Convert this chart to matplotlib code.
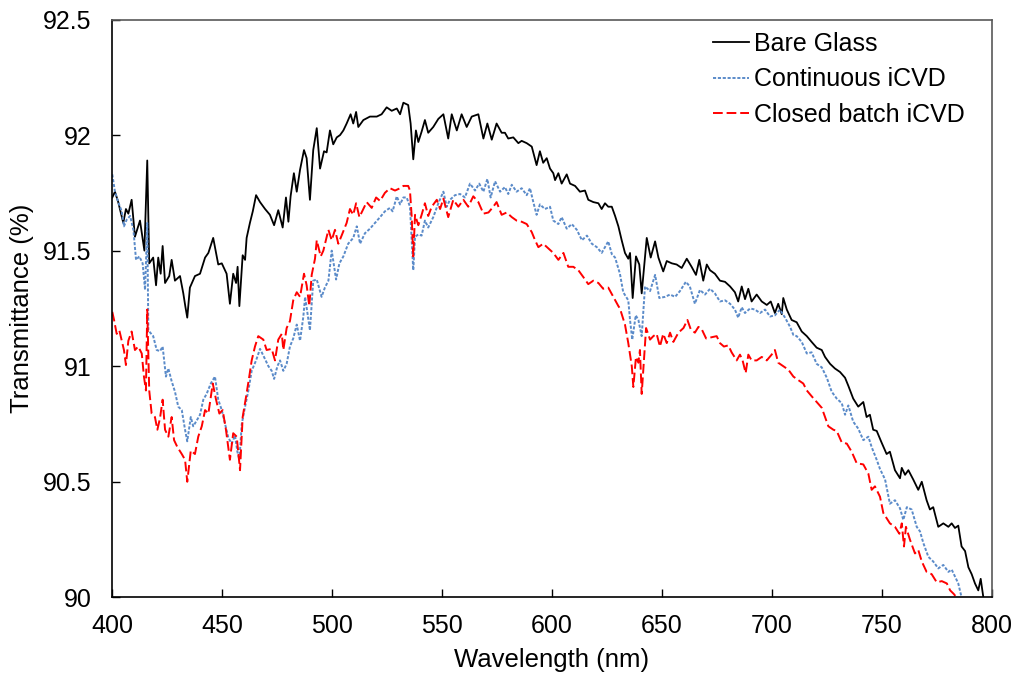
"""Transmittance of bare and iCVD-coated glass, 400-800 nm."""

import matplotlib

matplotlib.use("Agg")
import matplotlib.pyplot as plt

plt.rcParams["font.family"] = ["Liberation Sans", "DejaVu Sans"]

# Bare glass (wavelength nm, transmittance %)
bare_nm = [
    400.0, 401.2, 402.7, 405.0, 406.2, 407.3, 408.8, 410.3, 412.6, 414.6,
    415.9, 416.8, 418.6, 419.9, 420.9, 422.0, 422.9, 424.0, 425.9, 427.0,
    428.5, 430.8, 432.3, 433.2, 434.1, 435.3, 437.6, 439.9, 442.2, 443.7,
    445.9, 448.2, 449.8, 452.0, 453.5, 455.0, 456.3, 457.0, 457.8, 459.3,
    460.4, 461.1, 462.6, 463.9, 465.4, 467.2, 469.5, 471.7, 473.6, 475.5,
    477.5, 479.0, 480.1, 481.1, 482.6, 483.9, 485.4, 487.2, 488.4, 489.9,
    491.4, 493.0, 494.5, 496.3, 497.5, 499.0, 500.5, 502.1, 503.6, 505.1,
    506.6, 508.4, 509.6, 510.9, 511.9, 514.2, 517.2, 520.3, 522.5, 524.8,
    527.1, 529.4, 530.9, 532.4, 534.6, 535.7, 536.9, 538.1, 539.2, 540.7,
    542.2, 543.7, 546.0, 548.3, 550.6, 552.8, 554.4, 556.7, 558.9, 561.2,
    563.5, 566.5, 568.8, 570.6, 572.6, 574.8, 577.1, 578.6, 580.1, 582.4,
    584.7, 586.2, 588.5, 590.8, 593.0, 594.5, 596.0, 597.6, 599.1, 600.6,
    601.4, 602.9, 604.4, 606.7, 608.2, 610.5, 612.7, 615.0, 616.5, 618.8,
    621.1, 622.6, 624.1, 625.6, 627.2, 628.7, 630.2, 631.7, 633.2, 634.7,
    635.5, 636.7, 638.2, 639.7, 640.8, 643.1, 644.9, 646.9, 648.4, 650.6,
    652.2, 654.5, 656.7, 659.0, 661.3, 663.5, 665.5, 667.0, 668.8, 670.4,
    671.9, 674.1, 676.4, 678.7, 681.0, 683.2, 684.7, 686.3, 687.8, 689.3,
    690.8, 693.1, 695.4, 697.7, 699.5, 701.4, 702.9, 704.5, 705.2, 706.8,
    709.0, 711.3, 713.6, 715.9, 718.1, 720.4, 722.7, 724.2, 726.5, 728.7,
    731.0, 733.3, 734.8, 737.0, 739.3, 741.6, 743.1, 744.6, 746.1, 747.7,
    749.9, 752.2, 753.7, 756.0, 758.3, 759.1, 760.6, 762.1, 764.3, 766.6,
    768.2, 770.4, 771.9, 773.4, 775.7, 778.0, 780.3, 781.8, 783.3, 784.8,
    786.3, 787.9, 789.4, 790.9, 792.4, 793.9, 795.0, 796.2,
]
bare_t = [
    91.73, 91.755, 91.71, 91.62, 91.68, 91.66, 91.72, 91.56, 91.63, 91.50,
    91.89, 91.445, 91.47, 91.35, 91.47, 91.40, 91.52, 91.36, 91.39, 91.46,
    91.37, 91.39, 91.315, 91.26, 91.21, 91.34, 91.39, 91.40, 91.47, 91.49,
    91.555, 91.44, 91.445, 91.40, 91.27, 91.40, 91.36, 91.43, 91.26, 91.48,
    91.46, 91.555, 91.62, 91.67, 91.74, 91.71, 91.68, 91.655, 91.61, 91.675,
    91.60, 91.73, 91.625, 91.735, 91.835, 91.755, 91.85, 91.935, 91.90, 91.72,
    91.935, 92.03, 91.855, 91.93, 91.925, 92.02, 91.96, 91.99, 92.00, 92.02,
    92.05, 92.09, 92.05, 92.10, 92.035, 92.065, 92.08, 92.08, 92.09, 92.12,
    92.105, 92.115, 92.09, 92.14, 92.13, 92.05, 91.895, 92.02, 91.97, 92.015,
    92.065, 92.01, 92.035, 92.07, 92.09, 91.985, 92.09, 92.02, 92.09, 92.035,
    92.08, 92.09, 91.985, 92.05, 91.98, 92.05, 92.01, 92.01, 91.985, 91.99,
    91.965, 91.975, 91.965, 91.95, 91.87, 91.93, 91.88, 91.90, 91.855, 91.835,
    91.805, 91.835, 91.79, 91.83, 91.79, 91.78, 91.755, 91.76, 91.72, 91.71,
    91.705, 91.68, 91.705, 91.69, 91.69, 91.65, 91.605, 91.545, 91.49, 91.465,
    91.49, 91.295, 91.475, 91.44, 91.315, 91.555, 91.47, 91.54, 91.47, 91.41,
    91.455, 91.445, 91.44, 91.425, 91.465, 91.43, 91.395, 91.46, 91.37, 91.44,
    91.415, 91.40, 91.37, 91.365, 91.345, 91.32, 91.28, 91.345, 91.29, 91.335,
    91.28, 91.31, 91.28, 91.265, 91.28, 91.23, 91.27, 91.225, 91.295, 91.245,
    91.20, 91.19, 91.15, 91.13, 91.105, 91.08, 91.07, 91.04, 91.01, 90.99,
    90.975, 90.95, 90.915, 90.86, 90.825, 90.845, 90.78, 90.79, 90.725, 90.72,
    90.67, 90.62, 90.63, 90.55, 90.515, 90.56, 90.53, 90.55, 90.51, 90.465,
    90.50, 90.42, 90.38, 90.39, 90.305, 90.32, 90.305, 90.32, 90.30, 90.31,
    90.22, 90.20, 90.13, 90.10, 90.06, 90.03, 90.08, 90.00,
]

# Continuous iCVD
cont_nm = [
    400.0, 401.2, 402.7, 404.3, 405.3, 406.6, 408.1, 409.6, 410.8, 412.3,
    413.8, 414.9, 415.9, 416.4, 418.6, 420.2, 421.7, 422.9, 424.4, 425.5,
    427.0, 428.5, 430.0, 431.6, 433.1, 434.1, 435.7, 436.8, 438.4, 439.9,
    441.4, 442.9, 444.8, 446.7, 448.2, 449.8, 451.3, 452.8, 454.3, 455.8,
    456.9, 457.8, 458.9, 460.4, 461.9, 463.4, 465.4, 467.2, 469.0, 471.0,
    472.5, 473.6, 475.1, 476.3, 477.8, 479.3, 480.8, 482.3, 483.9, 485.4,
    486.9, 487.7, 489.9, 491.4, 493.0, 495.2, 496.7, 498.3, 499.8, 501.8,
    503.3, 505.1, 507.3, 509.6, 511.2, 512.7, 514.9, 517.2, 519.5, 521.8,
    524.0, 526.3, 527.5, 529.4, 530.9, 532.4, 533.9, 535.4, 536.9, 537.7,
    539.2, 540.7, 542.2, 543.7, 546.0, 548.3, 550.6, 552.1, 553.6, 555.9,
    558.2, 560.4, 562.7, 565.0, 566.9, 568.8, 570.6, 572.1, 574.1, 576.4,
    578.6, 580.1, 581.7, 583.9, 586.2, 588.5, 590.0, 591.5, 593.0, 594.5,
    596.8, 599.1, 600.6, 602.9, 604.4, 606.7, 609.0, 611.3, 613.6, 615.9,
    618.1, 620.4, 622.6, 624.1, 625.6, 627.2, 628.7, 630.9, 632.4, 634.7,
    635.5, 636.5, 638.1, 639.3, 640.8, 642.3, 644.6, 646.9, 648.8, 651.4,
    653.7, 656.0, 658.2, 660.9, 662.7, 665.0, 667.3, 669.6, 671.9, 674.1,
    676.4, 678.7, 681.0, 683.2, 684.7, 686.3, 687.8, 690.1, 692.3, 694.6,
    696.9, 699.2, 701.4, 703.7, 706.0, 708.3, 709.8, 711.3, 713.6, 715.9,
    718.1, 720.4, 722.7, 725.0, 727.2, 729.5, 731.8, 733.3, 734.8, 737.0,
    739.3, 741.6, 743.9, 745.4, 747.7, 749.2, 751.5, 753.7, 756.0, 758.3,
    759.8, 761.4, 763.6, 765.9, 767.4, 768.9, 771.2, 773.4, 775.7, 778.0,
    780.3, 781.8, 783.3, 784.8, 786.3,
]
cont_t = [
    91.83, 91.755, 91.71, 91.67, 91.605, 91.635, 91.65, 91.59, 91.46, 91.475,
    91.445, 91.33, 91.62, 91.155, 91.13, 91.07, 91.065, 91.085, 90.955, 90.99,
    90.935, 90.89, 90.825, 90.81, 90.725, 90.675, 90.78, 90.74, 90.765, 90.79,
    90.855, 90.88, 90.925, 90.955, 90.855, 90.81, 90.75, 90.69, 90.665, 90.70,
    90.63, 90.595, 90.75, 90.825, 90.895, 90.98, 91.025, 91.075, 91.04, 91.00,
    90.98, 90.945, 91.00, 91.025, 90.98, 91.01, 91.085, 91.12, 91.18, 91.11,
    91.215, 91.30, 91.155, 91.37, 91.375, 91.30, 91.34, 91.37, 91.50, 91.375,
    91.445, 91.475, 91.53, 91.555, 91.605, 91.53, 91.575, 91.595, 91.62, 91.645,
    91.67, 91.685, 91.67, 91.735, 91.70, 91.73, 91.73, 91.69, 91.415, 91.56,
    91.57, 91.565, 91.63, 91.60, 91.645, 91.705, 91.755, 91.69, 91.72, 91.74,
    91.745, 91.73, 91.79, 91.76, 91.79, 91.755, 91.81, 91.73, 91.80, 91.755,
    91.775, 91.745, 91.785, 91.755, 91.77, 91.74, 91.77, 91.71, 91.655, 91.70,
    91.68, 91.69, 91.63, 91.615, 91.645, 91.595, 91.615, 91.59, 91.545, 91.565,
    91.53, 91.515, 91.49, 91.515, 91.54, 91.485, 91.47, 91.40, 91.32, 91.285,
    91.20, 91.115, 91.22, 91.20, 91.13, 91.345, 91.325, 91.395, 91.295, 91.30,
    91.31, 91.30, 91.325, 91.365, 91.345, 91.27, 91.33, 91.31, 91.335, 91.315,
    91.28, 91.285, 91.27, 91.245, 91.21, 91.255, 91.23, 91.25, 91.245, 91.23,
    91.245, 91.215, 91.22, 91.245, 91.21, 91.17, 91.135, 91.13, 91.105, 91.055,
    91.06, 91.01, 90.995, 90.95, 90.89, 90.86, 90.84, 90.79, 90.83, 90.76,
    90.73, 90.68, 90.695, 90.65, 90.595, 90.555, 90.51, 90.405, 90.42, 90.385,
    90.335, 90.39, 90.38, 90.305, 90.285, 90.235, 90.175, 90.155, 90.125, 90.14,
    90.11, 90.12, 90.09, 90.06, 90.00,
]

# Closed batch iCVD
batch_nm = [
    400.0, 400.8, 402.0, 403.2, 404.3, 405.3, 406.2, 407.3, 408.8, 410.3,
    411.8, 413.4, 414.4, 415.3, 415.9, 416.8, 417.9, 419.4, 420.5, 421.7,
    422.9, 424.0, 425.5, 427.0, 428.1, 429.6, 431.6, 433.1, 434.1, 435.7,
    437.6, 439.1, 440.7, 442.2, 443.7, 445.7, 447.2, 448.7, 450.2, 451.7,
    453.5, 455.0, 456.6, 458.1, 459.3, 460.8, 462.3, 463.4, 464.9, 466.4,
    468.7, 470.2, 472.5, 474.0, 475.5, 477.1, 477.8, 479.3, 480.8, 482.3,
    483.9, 485.4, 487.2, 488.4, 489.6, 490.7, 492.2, 493.0, 494.8, 496.0,
    498.3, 499.8, 501.3, 502.8, 504.3, 506.6, 508.1, 509.6, 510.9, 512.4,
    514.2, 515.7, 518.0, 520.0, 521.8, 524.0, 526.3, 528.6, 530.9, 532.4,
    534.6, 535.4, 536.2, 536.9, 537.7, 539.2, 540.7, 542.2, 543.7, 545.3,
    547.6, 549.1, 550.6, 552.8, 555.1, 557.4, 559.7, 561.9, 564.2, 566.5,
    568.8, 571.1, 573.3, 574.8, 577.1, 579.4, 581.7, 583.9, 586.2, 588.5,
    590.8, 592.3, 593.8, 596.0, 598.3, 600.6, 602.9, 605.2, 607.4, 609.7,
    612.0, 614.3, 616.5, 618.8, 621.1, 623.3, 625.6, 627.9, 630.2, 630.9,
    633.2, 634.7, 636.3, 637.0, 638.2, 639.3, 640.0, 640.8, 641.5, 642.8,
    644.6, 646.1, 647.6, 649.1, 650.6, 652.2, 653.7, 655.2, 657.5, 659.8,
    661.6, 663.1, 665.0, 666.6, 668.1, 670.1, 672.6, 674.9, 676.4, 678.2,
    680.2, 681.7, 684.0, 685.5, 686.7, 688.1, 689.3, 690.8, 693.1, 695.4,
    697.7, 699.9, 701.4, 702.9, 705.2, 707.5, 709.8, 712.0, 714.3, 715.9,
    718.1, 720.4, 722.7, 724.2, 725.7, 728.0, 729.5, 731.8, 734.1, 736.3,
    738.6, 741.6, 743.9, 745.4, 746.9, 749.2, 750.7, 753.7, 756.0, 758.0,
    759.1, 760.1, 761.0, 762.8, 765.1, 766.6, 768.2, 770.4, 772.7, 775.0,
    777.3, 779.6, 781.1, 782.7, 784.0,
]
batch_t = [
    91.235, 91.20, 91.14, 91.155, 91.11, 91.07, 91.005, 91.11, 91.15, 91.07,
    91.085, 91.055, 90.955, 90.895, 91.245, 90.895, 90.795, 90.78, 90.725, 90.775,
    90.855, 90.725, 90.695, 90.78, 90.68, 90.65, 90.62, 90.595, 90.50, 90.635,
    90.62, 90.695, 90.74, 90.81, 90.795, 90.925, 90.855, 90.795, 90.81, 90.725,
    90.595, 90.71, 90.695, 90.55, 90.78, 90.865, 90.955, 91.025, 91.085, 91.13,
    91.115, 91.07, 91.075, 91.025, 91.115, 91.14, 91.07, 91.165, 91.195, 91.285,
    91.32, 91.30, 91.40, 91.35, 91.26, 91.395, 91.465, 91.545, 91.475, 91.50,
    91.59, 91.545, 91.59, 91.53, 91.565, 91.62, 91.68, 91.655, 91.705, 91.645,
    91.68, 91.71, 91.685, 91.73, 91.715, 91.75, 91.77, 91.76, 91.77, 91.78,
    91.78, 91.76, 91.645, 91.475, 91.655, 91.61, 91.655, 91.705, 91.65, 91.69,
    91.72, 91.68, 91.725, 91.645, 91.72, 91.69, 91.72, 91.69, 91.735, 91.71,
    91.66, 91.665, 91.69, 91.71, 91.655, 91.665, 91.645, 91.63, 91.625, 91.615,
    91.58, 91.545, 91.515, 91.53, 91.51, 91.49, 91.46, 91.49, 91.43, 91.43,
    91.415, 91.385, 91.355, 91.37, 91.36, 91.335, 91.34, 91.30, 91.26, 91.25,
    91.18, 91.10, 91.00, 90.91, 91.04, 91.015, 91.07, 90.88, 90.98, 91.165,
    91.115, 91.13, 91.14, 91.085, 91.14, 91.10, 91.145, 91.105, 91.145, 91.165,
    91.20, 91.16, 91.145, 91.17, 91.16, 91.12, 91.125, 91.13, 91.10, 91.085,
    91.09, 91.06, 91.025, 91.05, 91.025, 90.97, 91.05, 91.025, 91.025, 91.04,
    91.025, 91.05, 91.07, 91.015, 91.00, 90.985, 90.955, 90.94, 90.925, 90.895,
    90.87, 90.845, 90.82, 90.78, 90.74, 90.725, 90.72, 90.67, 90.665, 90.63,
    90.58, 90.575, 90.535, 90.465, 90.48, 90.435, 90.365, 90.32, 90.305, 90.275,
    90.32, 90.22, 90.305, 90.25, 90.19, 90.205, 90.155, 90.11, 90.10, 90.065,
    90.07, 90.06, 90.03, 90.015, 90.00,
]

x_ticks = [400, 450, 500, 550, 600, 650, 700, 750, 800]
y_ticks = [90, 90.5, 91, 91.5, 92, 92.5]
y_tick_labels = ["90", "90.5", "91", "91.5", "92", "92.5"]


def main() -> None:
    fig = plt.figure(figsize=(10.19, 6.75), dpi=100)
    ax = fig.add_axes([0.1102, 0.1151, 0.8630, 0.8560])

    ax.plot(bare_nm, bare_t, color="black", lw=1.3, label="Bare Glass")
    ax.plot(cont_nm, cont_t, color="#5B8BC9", lw=1.4, ls=(0, (1.6, 0.9)),
            label="Continuous iCVD")
    ax.plot(batch_nm, batch_t, color="#FF0000", lw=1.4, ls=(0, (5, 2)),
            label="Closed batch iCVD")

    ax.set_xlim(400, 800)
    ax.set_ylim(90, 92.5)
    ax.set_xticks(x_ticks)
    ax.set_yticks(y_ticks)
    ax.set_yticklabels(y_tick_labels)

    ax.tick_params(direction="in", length=6, width=1.0, labelsize=18,
                   colors="black")
    ax.tick_params(axis="x", pad=12)
    ax.tick_params(axis="y", pad=15)
    for side in ("left", "bottom"):
        ax.spines[side].set_color("black")
        ax.spines[side].set_linewidth(1.2)
    for side in ("top", "right"):
        ax.spines[side].set_color("#595959")
        ax.spines[side].set_linewidth(1.2)

    fig.text(0.5417, 1 - 660 / 675, "Wavelength (nm)", ha="center",
             va="center", fontsize=18.5)
    fig.text(22 / 1019, 1 - 308 / 675, "Transmittance (%)", ha="center",
             va="center", rotation=90, fontsize=18.5)

    ax.legend(loc="upper left", bbox_to_anchor=(0.683, 0.978), frameon=False,
              fontsize=18, handlelength=1.45, handletextpad=0.2,
              labelspacing=0.45, borderaxespad=0.0, borderpad=0.0)

    fig.savefig("out.png", dpi=100)
    plt.close(fig)


if __name__ == "__main__":
    main()
